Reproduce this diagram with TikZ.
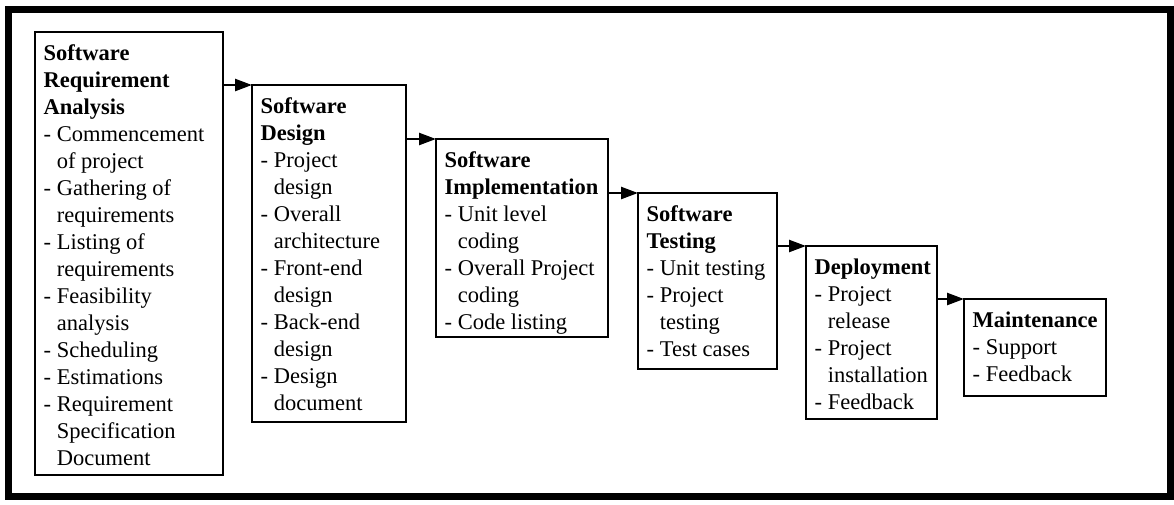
\documentclass[tikz,border=0pt]{standalone}
\usepackage{fontspec}
\setmainfont{Liberation Serif}
\usetikzlibrary{arrows.meta}
\newcommand\hind{\phantom{- }}
\newcommand\fl{\rule{0pt}{20pt}}
\begin{document}
\begin{tikzpicture}[x=1pt,y=-1pt,
  box/.style={draw, line width=2.4pt, anchor=north west, inner sep=0, outer sep=0},
  txt/.style={anchor=north west, inner sep=0, align=left, font=\fontsize{22.5}{27}\selectfont},
  arr/.style={line width=2.4pt, -{Triangle[length=17pt,width=12pt]}},
]
\useasboundingbox (0,0) rectangle (1174,504);
\node[draw, line width=7pt, minimum width=1161.5pt, minimum height=487pt, anchor=north west, inner sep=0, outer sep=0] (frame) at (8.5,9) {};

\node[box, minimum width=188pt, minimum height=443pt] (b1) at (35,32) {};
\node[box, minimum width=154pt, minimum height=337pt] (b2) at (252,85) {};
\node[box, minimum width=172pt, minimum height=198pt] (b3) at (436,139) {};
\node[box, minimum width=139pt, minimum height=176pt] (b4) at (638,193) {};
\node[box, minimum width=131pt, minimum height=173pt] (b5) at (806,246) {};
\node[box, minimum width=142pt, minimum height=97pt] (b6) at (964,299) {};

\node[txt] (t1) at ([shift={(8.5,8)}]b1.north west) {\fl\textbf{Software}\\ \textbf{Requirement}\\ \textbf{Analysis}\\ - Commencement\\ \hind of project\\ - Gathering of\\ \hind requirements\\ - Listing of\\ \hind requirements\\ - Feasibility\\ \hind analysis\\ - Scheduling\\ - Estimations\\ - Requirement\\ \hind Specification\\ \hind Document};
\node[txt] (t2) at ([shift={(8.5,8)}]b2.north west) {\fl\textbf{Software}\\ \textbf{Design}\\ - Project\\ \hind design\\ - Overall\\ \hind architecture\\ - Front-end\\ \hind design\\ - Back-end\\ \hind design\\ - Design\\ \hind document};
\node[txt] (t3) at ([shift={(8.5,8)}]b3.north west) {\fl\textbf{Software}\\ \textbf{Implementation}\\ - Unit level\\ \hind coding\\ - Overall Project\\ \hind coding\\ - Code listing};
\node[txt] (t4) at ([shift={(8.5,8)}]b4.north west) {\fl\textbf{Software}\\ \textbf{Testing}\\ - Unit testing\\ - Project\\ \hind testing\\ - Test cases};
\node[txt] (t5) at ([shift={(8.5,8)}]b5.north west) {\fl\textbf{Deployment}\\ - Project\\ \hind release\\ - Project\\ \hind installation\\ - Feedback};
\node[txt] (t6) at ([shift={(8.5,8)}]b6.north west) {\fl\textbf{Maintenance}\\ - Support\\ - Feedback};

\draw[arr] (b1.east |- b2.north west) -- (b2.north west);
\draw[arr] (b2.east |- b3.north west) -- (b3.north west);
\draw[arr] (b3.east |- b4.north west) -- (b4.north west);
\draw[arr] (b4.east |- b5.north west) -- (b5.north west);
\draw[arr] (b5.east |- b6.north west) -- (b6.north west);
\end{tikzpicture}
\end{document}
